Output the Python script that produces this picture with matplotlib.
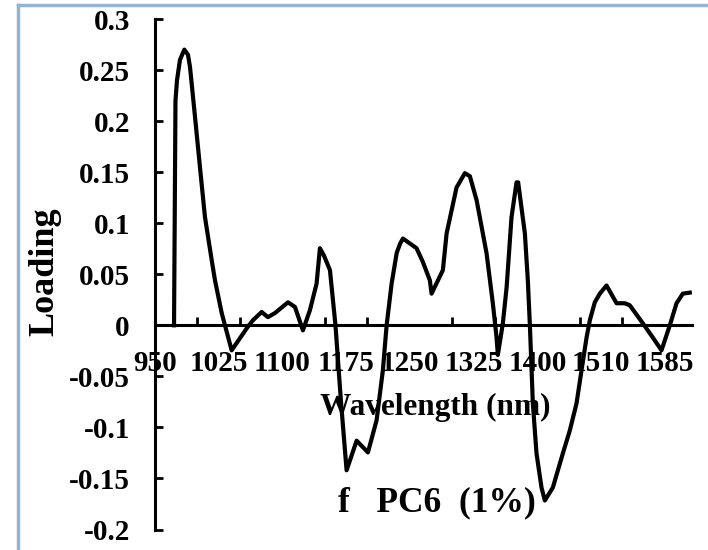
import matplotlib.pyplot as plt
from matplotlib.lines import Line2D

# Loading values
wavelength = [972.4, 974.1, 975.9, 979.4, 984.5, 988.8, 991.2, 997.1, 1002.9, 1008.8,
              1016.7, 1020.6, 1028.5, 1040.2, 1057.9, 1065.3, 1075.5, 1082.9, 1091.2,
              1106.5, 1114.7, 1124.1, 1132.4, 1140.2, 1144.1, 1149.0, 1155.9,
              1162.4, 1168.8, 1175.5, 1187.3, 1200.6, 1210.8, 1218.2, 1222.6, 1228.5,
              1234.5, 1238.5, 1241.8, 1257.8, 1265.3, 1273.5, 1275.5, 1288.8, 1293.2,
              1304.9, 1314.7, 1320.6, 1328.5, 1340.2, 1347.6, 1352.0, 1353.5, 1359.4,
              1363.8, 1369.6, 1375.5, 1377.4, 1385.3, 1388.8, 1391.2, 1394.7, 1399.0,
              1404.9, 1408.8, 1418.2, 1430.0, 1438.2, 1446.1, 1452.0, 1457.9, 1461.8,
              1467.6, 1473.5, 1481.4, 1493.2, 1502.9, 1508.8, 1524.1, 1535.9, 1546.1,
              1555.9, 1563.8, 1571.2, 1579.4]
loading = [0.0, 0.22, 0.24, 0.26, 0.27, 0.265, 0.253, 0.204, 0.155, 0.106,
           0.064, 0.044, 0.012, -0.0245, -0.003, 0.005, 0.013, 0.008, 0.012,
           0.0225, 0.018, -0.005, 0.015, 0.041, 0.0755, 0.068, 0.054,
           0.0, -0.074, -0.142, -0.113, -0.1245, -0.093, -0.044, 0.0, 0.041,
           0.071, 0.08, 0.085, 0.0755, 0.062, 0.044, 0.031, 0.054, 0.09,
           0.135, 0.149, 0.146, 0.1225, 0.0706, 0.0216, -0.012, -0.029, 0.002,
           0.037, 0.106, 0.14, 0.14, 0.09, 0.044, 0.0, -0.0765, -0.1255,
           -0.159, -0.1716, -0.159, -0.1255, -0.103, -0.0765, -0.044, -0.012, 0.005,
           0.0225, 0.031, 0.039, 0.0216, 0.0216, 0.0196, 0.002, -0.012, -0.0245,
           0.0, 0.0216, 0.031, 0.032]

label_pos = [950, 1025, 1100, 1175, 1250, 1325, 1400, 1475, 1550]
label_text = ['950', '1025', '1100', '1175', '1250', '1325', '1400', '1510', '1585']
mark_pos = [950, 1000, 1050, 1100, 1150, 1200, 1250, 1300, 1350, 1400, 1450, 1500, 1550]
y_ticks = [-0.2, -0.15, -0.1, -0.05, 0, 0.05, 0.1, 0.15, 0.2, 0.25, 0.3]
y_text = ['-0.2', '-0.15', '-0.1', '-0.05', '0', '0.05', '0.1', '0.15', '0.2', '0.25', '0.3']

plt.rcParams['font.family'] = 'Liberation Serif'
plt.rcParams['font.weight'] = 'bold'

W, H = 708, 550
fig = plt.figure(figsize=(W / 100, H / 100), dpi=100)
ax = fig.add_axes([155 / W, 1 - 529.5 / H, 537 / W, 510.5 / H])

ax.plot(wavelength, loading, color='black', linewidth=3, solid_joinstyle='round')

ax.set_xlim(950, 1582)
ax.set_ylim(-0.2, 0.3)

# axis look: y axis at 950, x axis through zero
for side in ['top', 'right']:
    ax.spines[side].set_visible(False)
ax.spines['bottom'].set_position(('data', 0))
ax.spines['left'].set_linewidth(2.2)
ax.spines['bottom'].set_linewidth(2.2)

ax.set_xticks(label_pos, label_text, fontsize=21, fontweight='bold')
ax.set_xticks(mark_pos, minor=True)
ax.tick_params(axis='x', which='major', length=0, pad=18)
ax.tick_params(axis='x', which='minor', direction='in', length=6, width=2)

ax.set_yticks(y_ticks, y_text, fontsize=21, fontweight='bold')
ax.tick_params(axis='y', direction='in', length=6, width=2, pad=18)

fig.text(45 / W, 1 - 272 / H, 'Loading', rotation=90, ha='center', va='center',
         fontsize=26, fontweight='bold')
fig.text(435 / W, 1 - 407 / H, 'Wavelength (nm)', ha='center', va='center',
         fontsize=22.5, fontweight='bold')
fig.text(437 / W, 1 - 503 / H, 'f   PC6  (1%)', ha='center', va='center',
         fontsize=25.5, fontweight='bold')

# light blue frame on top and left of the picture
fig.add_artist(Line2D([18 / W, 1], [1 - 5 / H, 1 - 5 / H], color='#95b3d7', linewidth=2.5))
fig.add_artist(Line2D([18 / W, 18 / W], [0, 1 - 5 / H], color='#95b3d7', linewidth=2.5))

fig.savefig('out.png', dpi=100)
